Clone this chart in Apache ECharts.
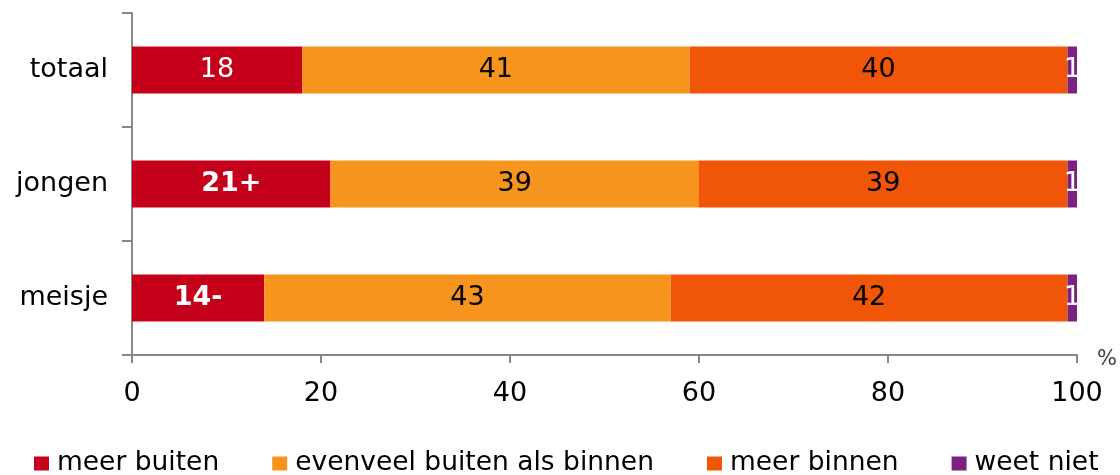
<!DOCTYPE html>
<html>
<head>
<meta charset="utf-8">
<script src="https://cdn.jsdelivr.net/npm/echarts@6/dist/echarts.min.js"></script>
<style>
  html, body { margin: 0; padding: 0; background: #fff; }
  #chart { width: 1120px; height: 475px; }
</style>
</head>
<body>
<div id="chart"></div>
<script>
// categorieën (van boven naar beneden)
var categories = ['totaal', 'jongen', 'meisje']

// percentages per antwoord
var meerBuiten = [18, 21, 14]
var evenveel = [41, 39, 43]
var meerBinnen = [40, 39, 42]
var weetNiet = [1, 1, 1]

// significantie-tekens bij "meer buiten"
var buitenSig = ['', '+', '-']

var xTicks = [0, 20, 40, 60, 80, 100]

var FONT = 'DejaVu Sans, Verdana, sans-serif'
var FS = 27

var chart = echarts.init(document.getElementById('chart'))

function bar(name, values, color, labelColor, formatter) {
  return {
    name: name,
    type: 'bar',
    stack: 'totaal',
    data: values,
    barWidth: 47,
    itemStyle: { color: color },
    label: {
      show: true,
      position: 'inside',
      color: labelColor,
      fontFamily: FONT,
      fontSize: FS,
      formatter: formatter || '{c}'
    }
  }
}

var buitenSeries = bar('meer buiten', meerBuiten.map(function(v, i) {
  // significante waarden vet weergeven
  return {
    value: v,
    label: buitenSig[i] ? { fontWeight: 'bold' } : {}
  }
}), '#c5001a', '#fff', function(p) {
  return p.value + buitenSig[p.dataIndex]
})

chart.setOption({
  animation: false,
  textStyle: { fontFamily: FONT },
  grid: { left: 132, right: 43, top: 13, bottom: 120 },
  legend: {
    top: 450,
    left: 34,
    padding: 0,
    icon: 'rect',
    itemWidth: 15,
    itemHeight: 14,
    itemGap: 53,
    textStyle: { fontFamily: FONT, fontSize: 26.5, color: '#000', padding: [0, 0, 0, 3] },
    data: ['meer buiten', 'evenveel buiten als binnen', 'meer binnen', 'weet niet']
  },
  xAxis: {
    type: 'value',
    min: xTicks[0],
    max: xTicks[xTicks.length - 1],
    interval: 20,
    name: '%',
    nameLocation: 'end',
    nameGap: 20,
    nameTextStyle: { fontFamily: FONT, fontSize: 21, color: '#404040', verticalAlign: 'top', lineHeight: 10 },
    axisLine: { show: true, lineStyle: { color: '#888', width: 2 } },
    axisTick: { show: true, length: 8, lineStyle: { color: '#888', width: 2 } },
    axisLabel: { fontFamily: FONT, fontSize: FS, color: '#000', margin: 25 },
    splitLine: { show: false }
  },
  yAxis: {
    type: 'category',
    inverse: true,
    data: categories,
    axisLine: { show: true, lineStyle: { color: '#888', width: 2 } },
    axisTick: { show: true, length: 10, lineStyle: { color: '#888', width: 2 } },
    axisLabel: { fontFamily: FONT, fontSize: FS, color: '#000', margin: 24 }
  },
  series: [
    buitenSeries,
    bar('evenveel buiten als binnen', evenveel, '#f7941d', '#000'),
    bar('meer binnen', meerBinnen, '#f15508', '#000'),
    bar('weet niet', weetNiet, '#7b2182', '#fff')
  ]
})
</script>
</body>
</html>
